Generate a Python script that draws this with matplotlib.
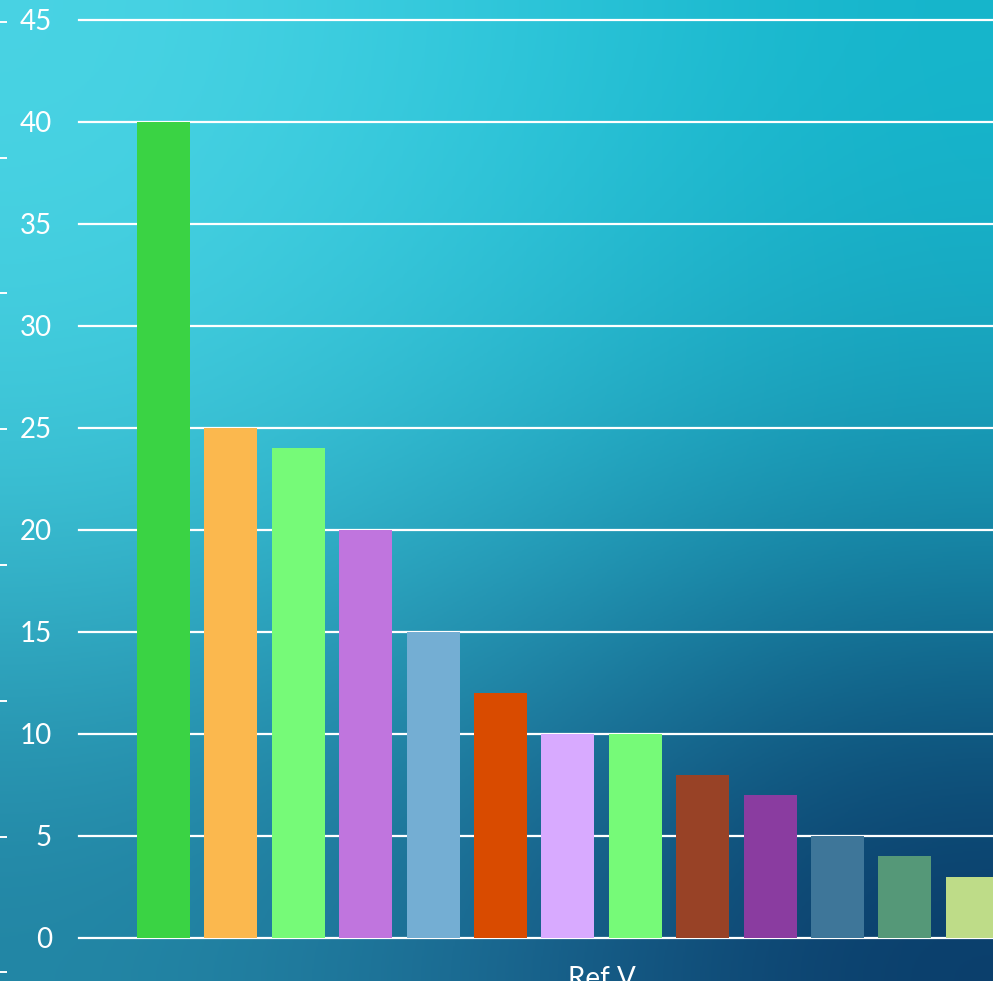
import matplotlib
matplotlib.use('Agg')
import matplotlib.pyplot as plt
import numpy as np

plt.rcParams['font.family'] = ['Lato', 'DejaVu Sans']

# bar values and colours, left to right
values = [40, 25, 24, 20, 15, 12, 10, 10, 8, 7, 5, 4, 3]
colors = ['#3AD344', '#FBB84E', '#76FA78', '#C075DE', '#74AED3', '#D94B00',
          '#D8AAFF', '#76FA78', '#984226', '#8A3CA0', '#3E7699', '#559878',
          '#BEDC88']
yticks = list(range(0, 50, 5))
category = 'Ref V'

W, H = 993, 981
fig = plt.figure(figsize=(W/100., H/100.), dpi=100)

# background gradient, light cyan top-left to deep blue bottom-right
grad = np.array([
    [[0x4A, 0xD4, 0xE4], [0x30, 0xC8, 0xDC], [0x15, 0xB6, 0xCC]],
    [[0x3C, 0xC6, 0xD8], [0x2B, 0xB3, 0xCA], [0x1A, 0x98, 0xB4]],
    [[0x22, 0x85, 0xA4], [0x1A, 0x66, 0x90], [0x0A, 0x3A, 0x68]],
]) / 255.
bg = fig.add_axes([0, 0, 1, 1], zorder=-10)
bg.imshow(grad, aspect='auto', interpolation='bicubic', extent=[0, 1, 1, 0])
bg.set_xlim(0, 1); bg.set_ylim(1, 0)
bg.axis('off')

# main chart
x0, y0, y45 = 79, 938, 20
ax = fig.add_axes([x0/W, (H-y0)/H, (W-x0)/W, (y0-y45)/H])
ax.patch.set_alpha(0)
step = 67.4
xmin = -(163.5 - x0)/step
ax.set_xlim(xmin, xmin + (W - x0)/step)
ax.set_ylim(0, 45)
x = np.arange(len(values))
ax.bar(x, values, width=53/step, color=colors, zorder=3)
ax.set_yticks(yticks)
ax.set_xticks([])
ax.yaxis.grid(True, color='white', lw=1.6, zorder=1)
ax.set_axisbelow(True)
for l in ax.get_ygridlines():
    l.set_clip_on(False)
for s in ax.spines.values():
    s.set_visible(False)
ax.tick_params(axis='y', length=0, pad=19.5, labelcolor='white', labelsize=20)

fig.text(568/W, 1 - 966/H, category, color='white', fontsize=20,
         ha='left', va='top')

# small tick marks along the left edge
ax2 = fig.add_axes([0, (H-972.3)/H, 0.02, (972.3-21.7)/H])
ax2.patch.set_alpha(0)
ax2.set_ylim(0, 7)
ax2.set_yticks(range(8))
ax2.set_xticks([])
for s in ax2.spines.values():
    s.set_visible(False)
ax2.tick_params(axis='y', direction='in', length=5, width=1.4, color='white',
                labelleft=False)

fig.savefig('out.png', dpi=100)
